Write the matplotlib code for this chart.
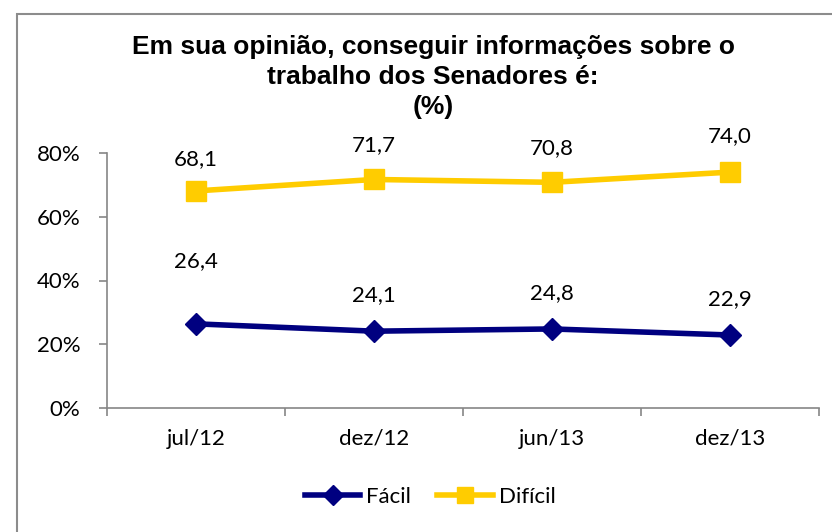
import matplotlib
matplotlib.use('Agg')
import matplotlib.pyplot as plt
from matplotlib.patches import Rectangle
from matplotlib.lines import Line2D

# data
periods = ['jul/12', 'dez/12', 'jun/13', 'dez/13']
facil = [26.4, 24.1, 24.8, 22.9]
dificil = [68.1, 71.7, 70.8, 74.0]
yticks = [0, 20, 40, 60, 80]

navy = '#000080'
gold = '#FFCC00'
grey = '#868686'
tick_font = 'Lato'

fig = plt.figure(figsize=(8.32, 5.32), dpi=100)

# outer chart border (runs off the right/bottom of the image)
fig.patches.append(Rectangle((17 / 832, -0.1), 1.2, 1 - 14 / 532 + 0.1,
                             transform=fig.transFigure, fill=False,
                             edgecolor='#8c8c8c', linewidth=1.5))

ax = fig.add_axes([107 / 832, 1 - 408 / 532, 712 / 832, 255 / 532])

x = list(range(len(periods)))
ax.plot(x, facil, color=navy, lw=4, marker='D', markersize=11,
        solid_capstyle='round', zorder=3)
ax.plot(x, dificil, color=gold, lw=4, marker='s', markersize=14,
        solid_capstyle='round', zorder=3)

# value labels
fac_off = [45, 26, 26, 26]
dif_off = [23, 25, 25, 26]
for i, v in enumerate(facil):
    ax.annotate(f'{v:.1f}'.replace('.', ','), (i, v), xytext=(0, fac_off[i]),
                textcoords='offset points', ha='center', va='center',
                fontsize=16, family=tick_font)
for i, v in enumerate(dificil):
    ax.annotate(f'{v:.1f}'.replace('.', ','), (i, v), xytext=(0, dif_off[i]),
                textcoords='offset points', ha='center', va='center',
                fontsize=16, family=tick_font)

ax.set_xlim(-0.5, len(periods) - 0.5)
ax.set_ylim(0, 80)

# category boundaries get the tick marks, labels sit in the middle
ax.set_xticks([i - 0.5 for i in range(len(periods) + 1)])
ax.set_xticklabels([])
ax.set_xticks(x, minor=True)
ax.set_xticklabels(periods, minor=True, fontsize=16, family=tick_font)
ax.tick_params(axis='x', which='major', length=6, width=1.2, color=grey)
ax.tick_params(axis='x', which='minor', length=0, pad=15)

ax.set_yticks(yticks)
ax.set_yticklabels([f'{t}%' for t in yticks], fontsize=16, family=tick_font)
ax.tick_params(axis='y', length=6, width=1.2, color=grey, pad=13)

for s in ['top', 'right']:
    ax.spines[s].set_visible(False)
for s in ['left', 'bottom']:
    ax.spines[s].set_color(grey)
    ax.spines[s].set_linewidth(1.2)

# title
fig.text(433 / 832, 1 - 35 / 532,
         'Em sua opinião, conseguir informações sobre o\ntrabalho dos Senadores é:\n(%)',
         ha='center', va='top', fontsize=19, fontweight='bold',
         family='Liberation Sans', linespacing=1.32)

# legend
handles = [Line2D([], [], color=navy, lw=4, marker='D', markersize=10),
           Line2D([], [], color=gold, lw=4, marker='s', markersize=12)]
fig.legend(handles, ['Fácil', 'Difícil'], loc='center',
           bbox_to_anchor=(430 / 832, 1 - 497 / 532), ncol=2, frameon=False,
           handlelength=2.5, handletextpad=0.25, columnspacing=1.2,
           prop={'family': tick_font, 'size': 16})

fig.savefig('out.png', dpi=100, facecolor='white')
